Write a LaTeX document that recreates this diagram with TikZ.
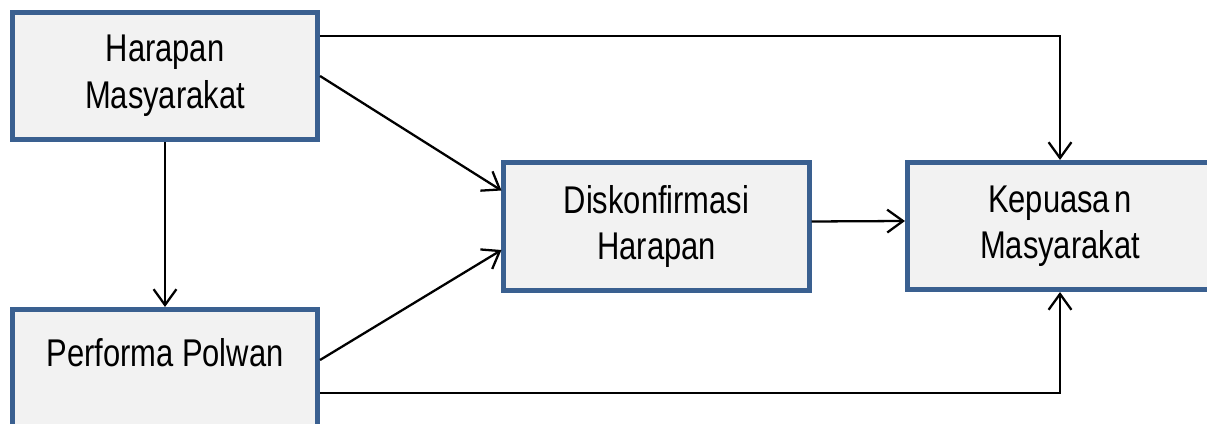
\documentclass[tikz,border=0pt]{standalone}
\usepackage{fontspec}
\setmainfont{Liberation Sans}[FakeStretch=0.8]
\usetikzlibrary{arrows.meta}
\definecolor{boxblue}{RGB}{58,96,144}
\definecolor{boxfill}{RGB}{242,242,242}
\begin{document}
\begin{tikzpicture}[
        >={Straight Barb[length=9pt,width=13pt]},
        var/.style = {draw = boxblue, line width = 2.6pt, fill = boxfill,
            minimum width = 6.11cm, minimum height = 2.55cm, align = center,
            font = \fontsize{22}{26.5}\selectfont},
        link/.style = {->, line width = 1.3pt}
    ]
        \useasboundingbox (0, 0) rectangle (24.14, 8.46);
        \node[var] (hm) at (3.3, 6.94) {Harapan\\Masyarakat};
        \node[var] (pp) at (3.3, 1.0) {Performa Polwan\\[-0.4cm]\strut};
        \node[var] (dh) at (13.13, 3.93) {Diskonfirmasi\\Harapan};
        \node[var] (km) at (21.2, 3.94) {Kepuasa\hspace{0.12em}n\\Masyarakat};
        \draw[link] (hm.south) -- (pp.north);
        \draw[link] (hm.east) -- ([yshift = 0.72cm]dh.west);
        \draw[link] ([yshift = 0.26cm]pp.east) -- ([yshift = -0.47cm]dh.west);
        \draw[link] ([yshift = 0.1cm]dh.east) -- ([yshift = 0.1cm]km.west);
        \draw[link] ([yshift = 0.8cm]hm.east) -| (km.north);
        \draw[link] ([yshift = -0.4cm]pp.east) -| (km.south);
    \end{tikzpicture}
\end{document}
